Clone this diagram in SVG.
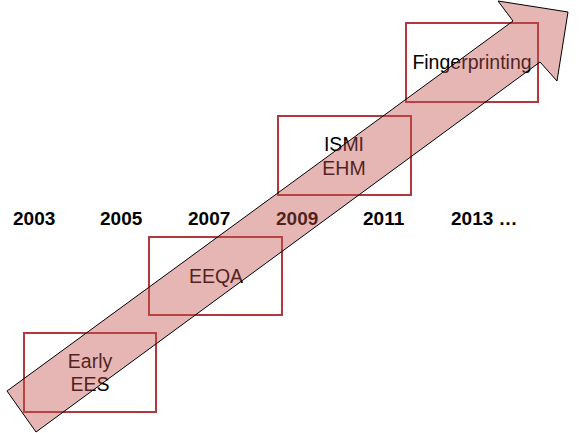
<svg xmlns="http://www.w3.org/2000/svg" width="587" height="433" viewBox="0 0 587 433">
<style>
.box{fill:#ffffff;stroke:#b3373d;stroke-width:2}
.lbl{font-family:"Liberation Sans",Arial,sans-serif;font-size:19.5px;fill:#000000;text-anchor:middle}
.yr{font-family:"Liberation Sans",Arial,sans-serif;font-size:19px;font-weight:bold;fill:#000000}
.arrow{fill:#c0504d;fill-opacity:0.42;stroke:#000000;stroke-width:1}
</style>
<rect width="587" height="433" fill="#ffffff"/>
<g id="years">
<text class="yr" x="13" y="225">2003</text>
<text class="yr" x="100" y="225">2005</text>
<text class="yr" x="188" y="225">2007</text>
<text class="yr" x="276" y="225">2009</text>
<text class="yr" x="363" y="225">2011</text>
<text class="yr" x="451" y="225">2013 …</text>
</g>
<g id="early-ees">
<rect class="box" x="24" y="333" width="132" height="79"/>
<text class="lbl" x="90" y="368">Early</text>
<text class="lbl" x="90" y="391">EES</text>
</g>
<g id="eeqa">
<rect class="box" x="149" y="237" width="133" height="78"/>
<text class="lbl" x="216" y="283">EEQA</text>
</g>
<g id="ismi-ehm">
<rect class="box" x="278" y="116" width="133" height="79"/>
<text class="lbl" x="344" y="151">ISMI</text>
<text class="lbl" x="344" y="175">EHM</text>
</g>
<g id="fingerprinting">
<rect class="box" x="406" y="23" width="132" height="79"/>
<text class="lbl" x="472" y="69">Fingerprinting</text>
</g>
<g id="connectors">
<path class="arrow" d="M7,391 L513,21 L498,1 L568,12 L557,81 L540,62 L36,432 Z"/>
</g>
</svg>
